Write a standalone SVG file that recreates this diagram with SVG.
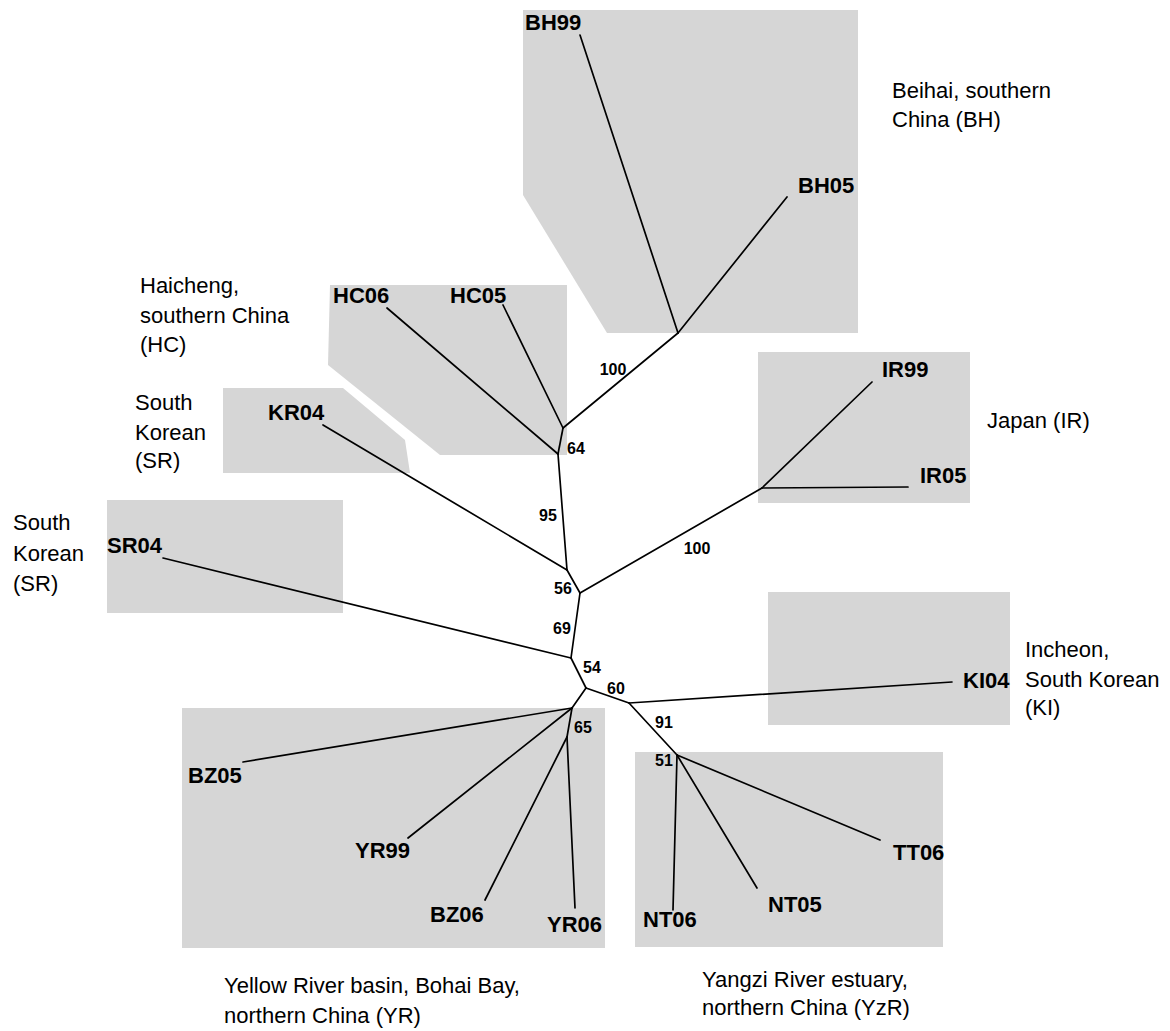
<svg xmlns="http://www.w3.org/2000/svg" width="1170" height="1031" viewBox="0 0 1170 1031">
<style>
.bg{fill:#ffffff}
.shade{fill:#d6d6d6}
.edge{stroke:#000;stroke-width:1.7;fill:none;stroke-linecap:round}
.leaf{font-family:"Liberation Sans",Arial,sans-serif;font-weight:bold;font-size:22px;fill:#000}
.boot{font-family:"Liberation Sans",Arial,sans-serif;font-weight:bold;font-size:16px;fill:#000;text-anchor:middle}
.region{font-family:"Liberation Sans",Arial,sans-serif;font-size:22px;fill:#000}
</style>
<rect class="bg" x="0" y="0" width="1170" height="1031"/>
<g id="shading">
<polygon class="shade" points="523,10 858,10 858,333 607,333 523,195"/>
<polygon class="shade" points="330,285 567,285 567,455 440,455 328,365"/>
<polygon class="shade" points="223,388 343,388 405,440 410,473 223,473"/>
<rect class="shade" x="107" y="500" width="236" height="113"/>
<rect class="shade" x="758" y="352" width="212" height="151"/>
<rect class="shade" x="768" y="592" width="242" height="133"/>
<rect class="shade" x="182" y="708" width="423" height="240"/>
<rect class="shade" x="635" y="752" width="308" height="195"/>
</g>
<g id="connectors">
<line class="edge" x1="580" y1="35" x2="678" y2="333"/>
<line class="edge" x1="787" y1="197" x2="678" y2="333"/>
<line class="edge" x1="678" y1="333" x2="563" y2="428"/>
<line class="edge" x1="503" y1="305" x2="563" y2="428"/>
<line class="edge" x1="387" y1="308" x2="558" y2="454"/>
<line class="edge" x1="563" y1="428" x2="558" y2="454"/>
<line class="edge" x1="558" y1="454" x2="567" y2="570"/>
<line class="edge" x1="323" y1="425" x2="567" y2="570"/>
<line class="edge" x1="567" y1="570" x2="580" y2="593"/>
<line class="edge" x1="580" y1="593" x2="762" y2="488"/>
<line class="edge" x1="762" y1="488" x2="872" y2="382"/>
<line class="edge" x1="762" y1="488" x2="908" y2="487"/>
<line class="edge" x1="580" y1="593" x2="571" y2="658"/>
<line class="edge" x1="163" y1="558" x2="571" y2="658"/>
<line class="edge" x1="571" y1="658" x2="586" y2="688"/>
<line class="edge" x1="586" y1="688" x2="629" y2="703"/>
<line class="edge" x1="629" y1="703" x2="952" y2="682"/>
<line class="edge" x1="629" y1="703" x2="677" y2="755"/>
<line class="edge" x1="677" y1="755" x2="880" y2="840"/>
<line class="edge" x1="677" y1="755" x2="757" y2="888"/>
<line class="edge" x1="677" y1="755" x2="673" y2="910"/>
<line class="edge" x1="586" y1="688" x2="572" y2="708"/>
<line class="edge" x1="572" y1="708" x2="243" y2="762"/>
<line class="edge" x1="572" y1="708" x2="408" y2="838"/>
<line class="edge" x1="572" y1="708" x2="567" y2="737"/>
<line class="edge" x1="567" y1="737" x2="485" y2="900"/>
<line class="edge" x1="567" y1="737" x2="575" y2="908"/>
</g>
<g id="leaves">
<g id="BH99"><text class="leaf" x="525" y="30">BH99</text></g>
<g id="BH05"><text class="leaf" x="798" y="193">BH05</text></g>
<g id="HC06"><text class="leaf" x="333" y="303">HC06</text></g>
<g id="HC05"><text class="leaf" x="450" y="303">HC05</text></g>
<g id="KR04"><text class="leaf" x="268" y="420">KR04</text></g>
<g id="SR04"><text class="leaf" x="107" y="553">SR04</text></g>
<g id="IR99"><text class="leaf" x="882" y="377">IR99</text></g>
<g id="IR05"><text class="leaf" x="920" y="483">IR05</text></g>
<g id="KI04"><text class="leaf" x="963" y="688">KI04</text></g>
<g id="BZ05"><text class="leaf" x="188" y="783">BZ05</text></g>
<g id="YR99"><text class="leaf" x="355" y="858">YR99</text></g>
<g id="BZ06"><text class="leaf" x="430" y="922">BZ06</text></g>
<g id="YR06"><text class="leaf" x="547" y="932">YR06</text></g>
<g id="NT06"><text class="leaf" x="643" y="927">NT06</text></g>
<g id="NT05"><text class="leaf" x="768" y="912">NT05</text></g>
<g id="TT06"><text class="leaf" x="893" y="860">TT06</text></g>
</g>
<g id="bootstrap">
<text class="boot" x="613" y="375">100</text>
<text class="boot" x="576" y="454">64</text>
<text class="boot" x="548" y="521">95</text>
<text class="boot" x="697" y="554">100</text>
<text class="boot" x="563" y="594">56</text>
<text class="boot" x="562" y="634">69</text>
<text class="boot" x="592" y="673">54</text>
<text class="boot" x="616" y="694">60</text>
<text class="boot" x="583" y="733">65</text>
<text class="boot" x="664" y="728">91</text>
<text class="boot" x="664" y="766">51</text>
</g>
<g id="regions">
<g id="region-BH"><text class="region" x="892" y="98">Beihai, southern</text><text class="region" x="892" y="127">China (BH)</text></g>
<g id="region-HC"><text class="region" x="140" y="293">Haicheng,</text><text class="region" x="140" y="323">southern China</text><text class="region" x="140" y="352">(HC)</text></g>
<g id="region-SR1"><text class="region" x="135" y="410">South</text><text class="region" x="135" y="440">Korean</text><text class="region" x="135" y="468">(SR)</text></g>
<g id="region-SR2"><text class="region" x="13" y="530">South</text><text class="region" x="13" y="561">Korean</text><text class="region" x="13" y="591">(SR)</text></g>
<g id="region-IR"><text class="region" x="987" y="428">Japan (IR)</text></g>
<g id="region-KI"><text class="region" x="1025" y="657">Incheon,</text><text class="region" x="1025" y="687">South Korean</text><text class="region" x="1025" y="715">(KI)</text></g>
<g id="region-YR"><text class="region" x="224" y="993">Yellow River basin, Bohai Bay,</text><text class="region" x="224" y="1023">northern China (YR)</text></g>
<g id="region-YzR"><text class="region" x="702" y="987">Yangzi River estuary,</text><text class="region" x="702" y="1015">northern China (YzR)</text></g>
</g>
</svg>
